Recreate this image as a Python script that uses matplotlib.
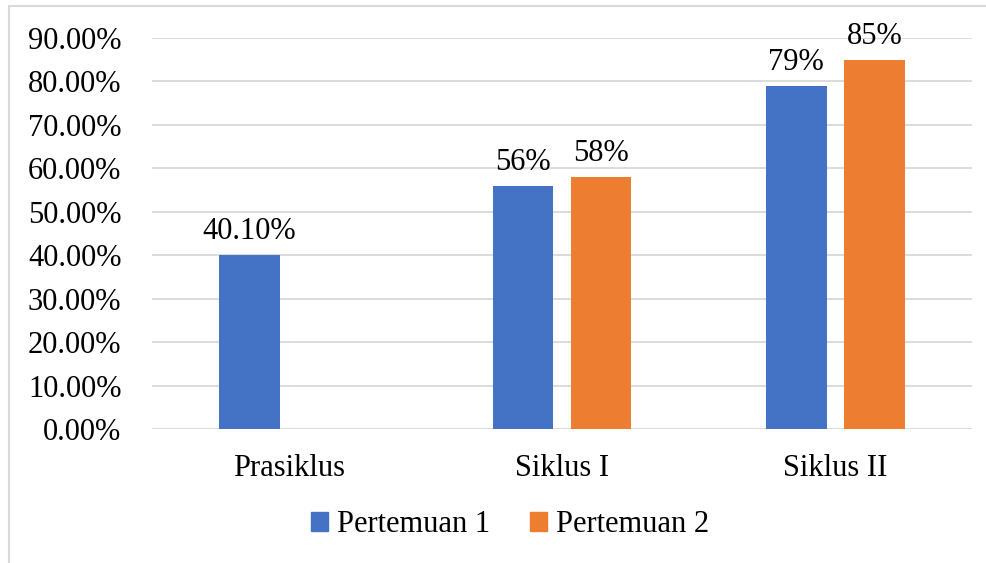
import matplotlib.pyplot as plt
import matplotlib.patches as mpatches
from matplotlib.ticker import FuncFormatter, MultipleLocator
import numpy as np

plt.rcParams['font.family'] = ['Liberation Serif', 'DejaVu Serif']

categories = ['Prasiklus', 'Siklus I', 'Siklus II']
pertemuan1 = [40.10, 56, 79]
pertemuan2 = [None, 58, 85]
labels1 = ['40.10%', '56%', '79%']
labels2 = ['', '58%', '85%']

blue = '#4472C4'
orange = '#ED7D31'
grid = '#D9D9D9'

fig = plt.figure(figsize=(9.87, 5.63), dpi=100)
ax = fig.add_axes([152 / 987, 134 / 563, 820 / 987, 391 / 563])

x = np.arange(len(categories))
w = 0.223
off = 0.1427

for i in range(len(categories)):
    ax.bar(x[i] - off, pertemuan1[i], width=w, color=blue, zorder=3)
    ax.text(x[i] - off, pertemuan1[i] + 2.0, labels1[i], ha='center', va='bottom', fontsize=22, clip_on=False)
    if pertemuan2[i] is not None:
        ax.bar(x[i] + off, pertemuan2[i], width=w, color=orange, zorder=3)
        ax.text(x[i] + off, pertemuan2[i] + 2.0, labels2[i], ha='center', va='bottom', fontsize=22, clip_on=False)

ax.set_xlim(-0.5, 2.5)
ax.set_ylim(0, 90)
ax.yaxis.set_major_locator(MultipleLocator(10))
ax.yaxis.set_major_formatter(FuncFormatter(lambda v, p: f'{v:.2f}%'))
ax.set_xticks(x)
ax.set_xticklabels(categories)
ax.tick_params(axis='y', length=0, pad=22, labelsize=22)
ax.tick_params(axis='x', length=0, pad=18, labelsize=22)
ax.grid(axis='y', color=grid, linewidth=1.3, zorder=0)
for s in ax.spines.values():
    s.set_visible(False)

handles = [mpatches.Patch(color=blue, label='Pertemuan 1'),
           mpatches.Patch(color=orange, label='Pertemuan 2')]
fig.legend(handles=handles, loc='center', bbox_to_anchor=(510 / 987, 1 - 525 / 563), ncol=2,
           frameon=False, fontsize=22, handlelength=0.55, handleheight=0.55, handletextpad=0.3,
           columnspacing=1.3)

# chart frame (cropped at right/bottom)
fig.patches.append(mpatches.Rectangle((9 / 987, -0.1), 1.2, 1 - 6 / 563 + 0.1, transform=fig.transFigure,
                                      fill=False, edgecolor=grid, linewidth=1.5))

fig.savefig('out.png', dpi=100)
